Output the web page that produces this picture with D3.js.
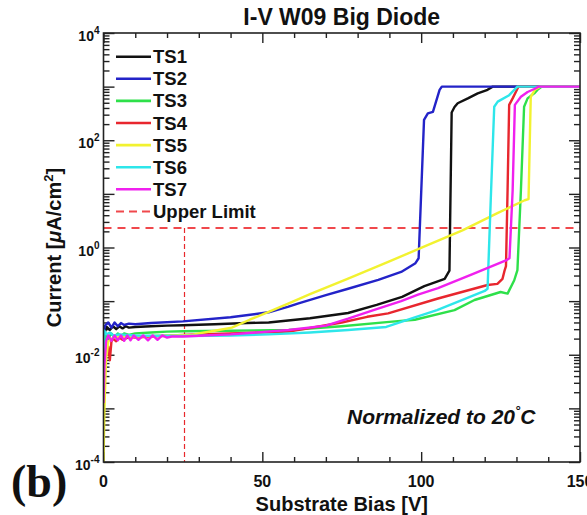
<!DOCTYPE html>
<html>
<head>
<meta charset="utf-8">
<script src="https://cdn.jsdelivr.net/npm/d3@7"></script>
<style>
  body { margin: 0; background: #fff; }
  text { font-family: "Liberation Sans", Arial, sans-serif; font-weight: bold; fill: #111; }
</style>
</head>
<body>
<svg id="chart" width="587" height="515"></svg>
<script>
// ---- data: substrate bias [V] and current density [uA/cm^2] per test structure ----
const seriesNames  = ["TS1", "TS2", "TS3", "TS4", "TS5", "TS6", "TS7"];
const seriesColors = ["#111111", "#2323c8", "#2ee04a", "#e8262e", "#f2f230", "#2ee6ea", "#f020ee"];

const ts1Bias    = [0, 0.3, 1, 2, 3, 4, 5, 6, 7, 8, 10, 15, 20, 25, 35, 45, 52, 65, 77, 86, 94, 101, 105, 107.4, 108.9, 109.6, 110.5, 111.5, 114.7, 117.8, 120.9, 122.5, 150];
const ts1Current = [0.010, 0.025, 0.033, 0.029, 0.034, 0.030, 0.034, 0.031, 0.034, 0.032, 0.033, 0.034, 0.035, 0.0355, 0.037, 0.039, 0.040, 0.048, 0.060, 0.085, 0.12, 0.19, 0.23, 0.26, 0.37, 330, 417, 490, 603, 750, 871, 1000, 1000];

const ts2Bias    = [0, 0.5, 1.5, 2.5, 3.5, 4.5, 5.5, 6.5, 8, 10, 15, 25, 40, 52, 58, 61.4, 70, 77, 86.5, 93.7, 98.2, 99.2, 100.9, 102.1, 103.7, 105.8, 106.5, 150];
const ts2Current = [0.025, 0.035, 0.040, 0.032, 0.040, 0.034, 0.039, 0.036, 0.038, 0.037, 0.039, 0.042, 0.050, 0.062, 0.078, 0.091, 0.129, 0.17, 0.25, 0.35, 0.51, 0.63, 240, 316, 339, 871, 1000, 1000];

const ts3Bias    = [0, 0.3, 0.8, 1.5, 2.5, 3.5, 4.5, 5.5, 6.5, 8, 10, 15, 20, 25, 40, 58.3, 75, 90, 98, 110.5, 116.8, 125, 127.2, 129.3, 130.3, 131.4, 132.4, 133.5, 135.6, 136.6, 138, 150];
const ts3Current = [0.001, 0.010, 0.024, 0.020, 0.025, 0.021, 0.025, 0.022, 0.025, 0.0234, 0.025, 0.026, 0.027, 0.0275, 0.028, 0.029, 0.034, 0.041, 0.045, 0.068, 0.105, 0.148, 0.138, 0.245, 0.38, 11.7, 422, 603, 750, 871, 1000, 1000];

const ts4Bias    = [0, 0.5, 1, 1.5, 2, 2.5, 3, 4, 5, 6, 8, 10, 15, 25, 40, 58.3, 75, 83, 89.6, 105.3, 120.9, 124, 125.6, 126.3, 126.7, 127.2, 127.7, 128.8, 129.8, 130.6, 150];
const ts4Current = [0.0032, 0.0158, 0.010, 0.0141, 0.0079, 0.0178, 0.020, 0.0178, 0.021, 0.019, 0.0214, 0.021, 0.0219, 0.0234, 0.025, 0.027, 0.040, 0.051, 0.059, 0.112, 0.20, 0.21, 0.26, 0.38, 0.45, 11.7, 457, 603, 794, 1000, 1000];

const ts5Bias    = [0, 0.3, 0.8, 1.5, 3, 5, 10, 20, 28, 30, 35, 40.4, 46, 52, 58.3, 65, 77, 90, 102, 113, 124, 132.6, 133.8, 134.5, 135.8, 137.5, 150];
const ts5Current = [0.0001, 0.001, 0.0079, 0.0178, 0.0209, 0.0219, 0.0219, 0.0229, 0.0234, 0.025, 0.028, 0.032, 0.045, 0.063, 0.091, 0.135, 0.263, 0.55, 1.11, 2.09, 4.37, 7.6, 8.0, 646, 871, 1000, 1000];

const ts6Bias    = [0, 0.3, 1, 2, 3, 5, 10, 25, 40, 52, 65, 77, 89, 98, 105, 113, 120, 120.9, 121.9, 123.0, 124.1, 127.7, 130.3, 150];
const ts6Current = [0.010, 0.028, 0.024, 0.026, 0.0229, 0.024, 0.0229, 0.0224, 0.0229, 0.024, 0.026, 0.029, 0.033, 0.050, 0.068, 0.105, 0.155, 0.17, 7.6, 422, 525, 692, 1000, 1000];

const ts7Bias    = [0, 0.3, 0.8, 1.5, 2.5, 3.5, 4.5, 5.5, 6.5, 7.5, 8.5, 9.5, 11, 12.5, 14, 15.5, 17, 18.5, 20, 21.5, 25, 40, 58.3, 70, 77, 85, 93.7, 99, 105.3, 116, 126.7, 127.8, 128.8, 129.5, 131.4, 133.5, 135.6, 137, 150];
const ts7Current = [0.00126, 0.0063, 0.0178, 0.0229, 0.0182, 0.0229, 0.0186, 0.0229, 0.0182, 0.0229, 0.0186, 0.0229, 0.019, 0.0229, 0.0186, 0.0229, 0.019, 0.0229, 0.0209, 0.0219, 0.0219, 0.024, 0.029, 0.035, 0.047, 0.068, 0.10, 0.132, 0.174, 0.316, 0.575, 0.63, 11.7, 457, 646, 794, 902, 1000, 1000];

const upperLimit    = 2.3;   // uA/cm^2
const referenceBias = 25.5;  // V

const xLabelTicks  = [0, 50, 100, 150];
const yLabelExps   = [4, 2, 0, -2, -4];

const titleText  = "I-V W09 Big Diode";
const xTitleText = "Substrate Bias [V]";

// ---- layout ----
const plot = { left: 103.5, right: 580, top: 33, bottom: 462 };

const svg = d3.select("#chart");

const x = d3.scaleLinear().domain([0, 150]).range([plot.left, plot.right]);
const y = d3.scaleLog().domain([1e-4, 1e4]).range([plot.bottom, plot.top]);

const biasArrays    = [ts1Bias, ts2Bias, ts3Bias, ts4Bias, ts5Bias, ts6Bias, ts7Bias];
const currentArrays = [ts1Current, ts2Current, ts3Current, ts4Current, ts5Current, ts6Current, ts7Current];
const series = seriesNames.map((name, i) => ({
  name,
  color: seriesColors[i],
  points: biasArrays[i].map((v, j) => [v, currentArrays[i][j]])
}));

// clip curves to the frame
svg.append("defs").append("clipPath").attr("id", "plotClip")
  .append("rect")
  .attr("x", plot.left).attr("y", plot.top)
  .attr("width", plot.right - plot.left).attr("height", plot.bottom - plot.top);

// ---- ticks (all pointing inward) ----
const minorX = d3.range(0, 151, 10).filter(v => v % 50 !== 0);
const majorX = [0, 50, 100, 150];
const minorY = [];
for (let d = -4; d < 4; d++) for (let m = 2; m <= 9; m++) minorY.push(m * Math.pow(10, d));
const majorY = d3.range(-4, 5).map(d => Math.pow(10, d));

function tickAxis(axisFn, scale, values, size, transform) {
  const g = svg.append("g").attr("transform", transform)
    .call(axisFn(scale).tickValues(values).tickSize(-size).tickFormat(""));
  g.select(".domain").remove();
  g.selectAll(".tick line").attr("stroke", "#222").attr("stroke-width", 1.4);
  return g;
}
tickAxis(d3.axisBottom, x, minorX, 5,  `translate(0,${plot.bottom})`);
tickAxis(d3.axisBottom, x, majorX, 10, `translate(0,${plot.bottom})`);
tickAxis(d3.axisTop,    x, minorX, 5,  `translate(0,${plot.top})`);
tickAxis(d3.axisTop,    x, majorX, 10, `translate(0,${plot.top})`);
tickAxis(d3.axisLeft,   y, minorY, 6,  `translate(${plot.left},0)`);
tickAxis(d3.axisLeft,   y, majorY, 11, `translate(${plot.left},0)`);
tickAxis(d3.axisRight,  y, minorY, 6,  `translate(${plot.right},0)`);
tickAxis(d3.axisRight,  y, majorY, 11, `translate(${plot.right},0)`);

// ---- upper limit guides ----
svg.append("line")
  .attr("x1", x(0)).attr("x2", x(150))
  .attr("y1", y(upperLimit)).attr("y2", y(upperLimit))
  .attr("stroke", "#f0484c").attr("stroke-width", 2)
  .attr("stroke-dasharray", "8,6");
svg.append("line")
  .attr("x1", x(referenceBias)).attr("x2", x(referenceBias))
  .attr("y1", y(upperLimit)).attr("y2", y(1e-4))
  .attr("stroke", "#e8282c").attr("stroke-width", 1.2)
  .attr("stroke-dasharray", "5,3");

// ---- curves ----
const line = d3.line().x(d => x(d[0])).y(d => y(d[1]));
svg.append("g").attr("clip-path", "url(#plotClip)")
  .selectAll("path").data(series).join("path")
  .attr("d", d => line(d.points))
  .attr("fill", "none")
  .attr("stroke", d => d.color)
  .attr("stroke-width", 2.4)
  .attr("stroke-linejoin", "round");

// ---- frame ----
svg.append("rect")
  .attr("x", plot.left).attr("y", plot.top)
  .attr("width", plot.right - plot.left).attr("height", plot.bottom - plot.top)
  .attr("fill", "none").attr("stroke", "#222").attr("stroke-width", 1.6);

// ---- tick labels ----
svg.append("g").selectAll("text").data(xLabelTicks).join("text")
  .attr("x", d => x(d)).attr("y", 487)
  .attr("text-anchor", "middle").attr("font-size", 16)
  .text(d => d);

const yLab = svg.append("g").selectAll("text").data(yLabelExps).join("text")
  .attr("x", plot.left - 4).attr("y", d => y(Math.pow(10, d)) + 8)
  .attr("text-anchor", "end").attr("font-size", 14);
yLab.append("tspan").text("10");
yLab.append("tspan").attr("dy", -7).attr("font-size", 10).text(d => d);

// ---- titles ----
svg.append("text")
  .attr("x", (plot.left + plot.right) / 2).attr("y", 25)
  .attr("text-anchor", "middle").attr("font-size", 23)
  .text(titleText);

svg.append("text")
  .attr("x", (plot.left + plot.right) / 2).attr("y", 511)
  .attr("text-anchor", "middle").attr("font-size", 20)
  .text(xTitleText);

const yTitle = svg.append("text")
  .attr("transform", `translate(61,${(plot.top + plot.bottom) / 2}) rotate(-90)`)
  .attr("text-anchor", "middle").attr("font-size", 20);
yTitle.append("tspan").text("Current [");
yTitle.append("tspan").attr("font-style", "italic").text("\u03bc");
yTitle.append("tspan").text("A/cm");
yTitle.append("tspan").attr("dy", -8).attr("font-size", 13).text("2");
yTitle.append("tspan").attr("dy", 8).text("]");

// ---- legend ----
const legendItems = series.map(s => ({ name: s.name, color: s.color, dashed: false }))
  .concat([{ name: "Upper Limit", color: "#f0484c", dashed: true }]);
const legend = svg.append("g").selectAll("g").data(legendItems).join("g")
  .attr("transform", (d, i) => `translate(0,${56.7 + i * 22.1})`);
legend.append("line")
  .attr("x1", 116).attr("x2", 151).attr("y1", 0).attr("y2", 0)
  .attr("stroke", d => d.color).attr("stroke-width", d => d.dashed ? 2 : 2.6)
  .attr("stroke-dasharray", d => d.dashed ? "8,5" : null);
legend.append("text")
  .attr("x", 153).attr("y", 6.5).attr("font-size", 18.5)
  .text(d => d.name);

// ---- annotations ----
const note = svg.append("text")
  .attr("x", 347).attr("y", 424)
  .attr("font-size", 21).attr("font-style", "italic");
note.append("tspan").text("Normalized to 20");
note.append("tspan").attr("dy", -9).attr("font-size", 13).text("\u00b0");
note.append("tspan").attr("dy", 9).text("C");

svg.append("text")
  .attr("x", 11).attr("y", 497)
  .style("font-family", "'Liberation Serif', 'Times New Roman', serif")
  .attr("font-size", 46)
  .text("(b)");
</script>
</body>
</html>
